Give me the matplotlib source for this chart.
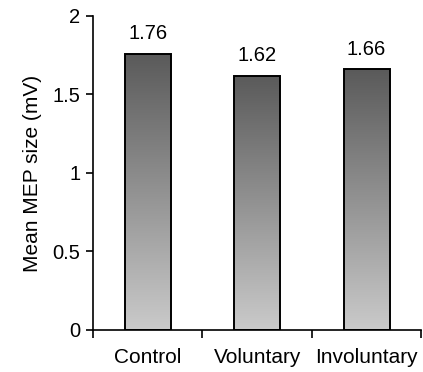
import numpy as np
import matplotlib.pyplot as plt
from matplotlib.colors import LinearSegmentedColormap

plt.rcParams['font.family'] = ['Liberation Sans', 'DejaVu Sans']

categories = ["Control", "Voluntary", "Involuntary"]
values = [1.76, 1.62, 1.66]
value_labels = ["1.76", "1.62", "1.66"]

fig = plt.figure(figsize=(4.23, 3.72), dpi=100)
ax = fig.add_axes([0.22, 0.113, 0.776, 0.844])

x = np.arange(len(categories))
width = 0.42
grad = LinearSegmentedColormap.from_list("g", ["#cacaca", "#5a5a5a"])

bars = ax.bar(x, values, width=width, color="none", edgecolor="black", linewidth=1.4, zorder=3)
for b, v, lab in zip(bars, values, value_labels):
    x0 = b.get_x()
    img = np.linspace(0, 1, 256).reshape(-1, 1)
    im = ax.imshow(img, cmap=grad, origin="lower", aspect="auto",
                   extent=[x0, x0 + b.get_width(), 0, v], zorder=2)
    im.set_clip_path(b)
    ax.text(b.get_x() + b.get_width() / 2, v + 0.065, lab, ha="center", va="bottom", fontsize=14.5)

ax.set_xlim(-0.5, 2.5)
ax.set_ylim(0, 2)
ax.set_yticks([0, 0.5, 1, 1.5, 2])
ax.set_yticklabels(["0", "0.5", "1", "1.5", "2"], fontsize=14.5)
ax.set_ylabel("Mean MEP size (mV)", fontsize=15, labelpad=8)

ax.set_xticks([-0.5, 0.5, 1.5, 2.5])
ax.set_xticklabels([])
ax.set_xticks(x, minor=True)
ax.set_xticklabels(categories, minor=True, fontsize=15)
ax.tick_params(axis="x", which="minor", length=0, pad=13)
ax.tick_params(axis="x", which="major", length=6, width=1.2, direction="out")
ax.tick_params(axis="y", length=5, width=1.2, direction="out", pad=4)

for s in ["top", "right"]:
    ax.spines[s].set_visible(False)
ax.spines["left"].set_linewidth(1.2)
ax.spines["bottom"].set_linewidth(1.2)

fig.savefig("out.png", dpi=100)
